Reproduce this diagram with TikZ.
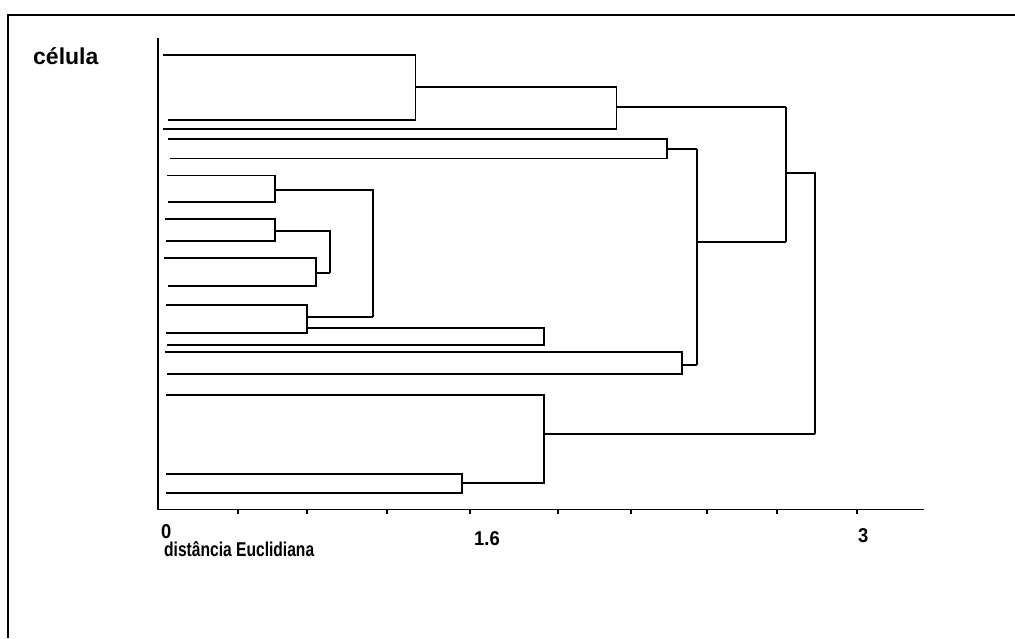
\documentclass[tikz,border=0pt]{standalone}
\usepackage{fontspec}
\setmainfont{Liberation Sans}
\newcommand{\narrow}[1]{\scalebox{0.78}[1]{#1}}
\newcommand{\narrowdig}[1]{\scalebox{0.92}[1]{#1}}
\begin{document}
\begin{tikzpicture}[x=1pt,y=-1pt,
  dend/.style={line width=1.8pt, line join=miter},
  frame/.style={line width=2.2pt},
  lab/.style={inner sep=0pt, font=\bfseries\fontsize{20}{23}\selectfont},
  biglab/.style={inner sep=0pt, font=\bfseries\fontsize{23}{26}\selectfont}]
\useasboundingbox (0,0) rectangle (1015,638);
% frame
\draw[frame] (8,638) -- (8,15) -- (1015,15);
% axes
\draw[dend] (158,38) -- (158,509.5) -- (924,509.5);
\foreach \t in {237.7,307.3,386.7,470,558.3,630.7,706.7,777.3,857.3}
  \draw[dend] (\t,509.5) -- (\t,513.5);
% labels
\node[biglab, anchor=base west] (cel) at (33,64) {célula};
\node[lab, anchor=base west] (t0) at (161,538) {\narrowdig{0}};
\node[lab, anchor=base west] (t16) at (474,545) {\narrowdig{1.6}};
\node[lab, anchor=base west] (t3) at (858,542) {\narrowdig{3}};
\node[lab, anchor=base west] (xl) at (164,556) {\narrow{distância Euclidiana}};
% dendrogram
% A
\draw[dend] (163,54.7) -- (415.5,54.7) -- (415.5,120) -- (168,120);
\draw[dend] (415.5,86.7) -- (616.5,86.7);
% B
\draw[dend] (163,129) -- (616.5,129) -- (616.5,86.7);
\draw[dend] (616.5,106.7) -- (786,106.7);
% C
\draw[dend] (168,139) -- (667,139) -- (667,158.5) -- (170,158.5);
\draw[dend] (667,149.3) -- (697,149.3);
% D
\draw[dend] (167,175.5) -- (275,175.5) -- (275,201.7) -- (168,201.7);
\draw[dend] (275,190) -- (373.3,190) -- (373.3,317.3);
% E
\draw[dend] (165,219.3) -- (275,219.3) -- (275,241) -- (166,241);
\draw[dend] (275,231) -- (330,231) -- (330,272.7);
% F
\draw[dend] (164,258.3) -- (315.7,258.3) -- (315.7,285.7) -- (168.3,285.7);
\draw[dend] (315.7,272.7) -- (330,272.7);
% H
\draw[dend] (166,305) -- (306.7,305) -- (306.7,333.3) -- (166,333.3);
\draw[dend] (306.7,317.3) -- (373.3,317.3);
% J
\draw[dend] (306.7,328.3) -- (544,328.3) -- (544,345) -- (167,345);
% K
\draw[dend] (165,351.7) -- (681.7,351.7) -- (681.7,374) -- (167,374);
\draw[dend] (681.7,365) -- (697,365);
\draw[dend] (697,149.3) -- (697,365);
\draw[dend] (697,242) -- (786,242);
\draw[dend] (786,106.7) -- (786,242);
\draw[dend] (786,172.7) -- (815,172.7) -- (815,434.3);
% L
\draw[dend] (166,395) -- (544,395) -- (544,483.3) -- (461.7,483.3);
\draw[dend] (544,434.3) -- (815,434.3);
\draw[dend] (166,474.3) -- (461.7,474.3) -- (461.7,493.3) -- (166,493.3);
\end{tikzpicture}
\end{document}
